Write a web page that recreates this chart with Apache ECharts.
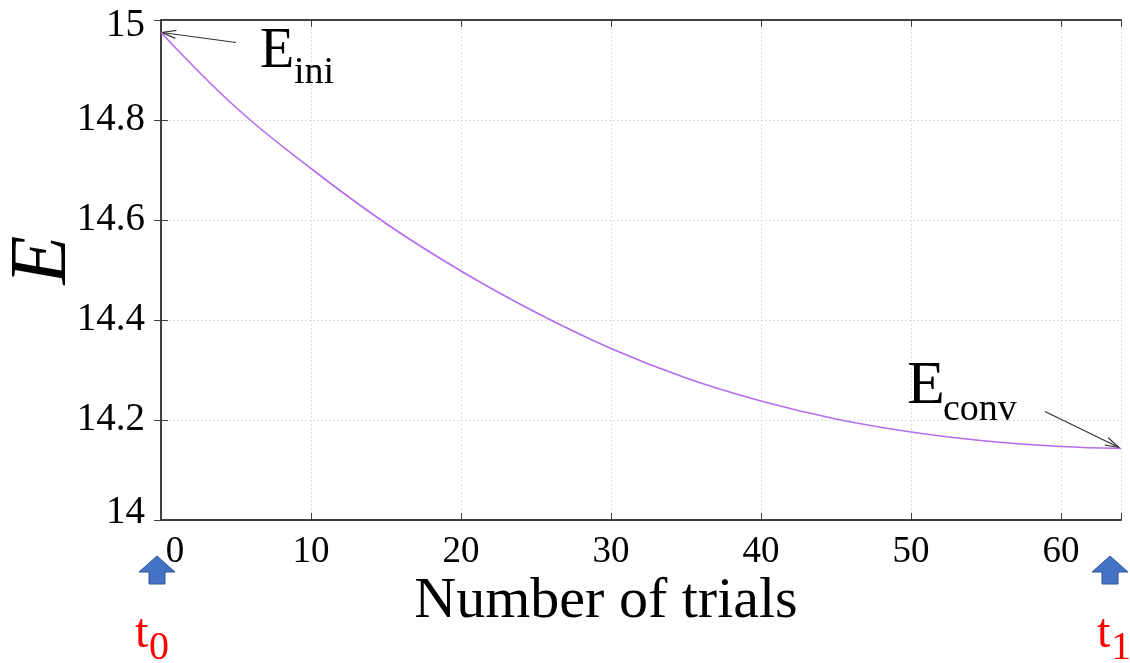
<!DOCTYPE html>
<html>
<head>
<meta charset="utf-8">
<script src="https://cdn.jsdelivr.net/npm/echarts@6/dist/echarts.min.js"></script>
<style>
html,body{margin:0;padding:0;background:#fff;}
#main{width:1130px;height:663px;}
</style>
</head>
<body>
<div id="main"></div>
<script>
// trials and energy
var trials = [0, 5, 10, 15, 20, 25, 30, 35, 40, 45, 50, 55, 60, 64];
var energy = [14.975, 14.825, 14.703, 14.593, 14.498, 14.415, 14.343, 14.284, 14.238, 14.202, 14.176, 14.158, 14.147, 14.143];
var xTicks = [0, 10, 20, 30, 40, 50, 60];
var yTicks = [14, 14.2, 14.4, 14.6, 14.8, 15];

var serif = "'Liberation Serif', 'DejaVu Serif', serif";
var frame = '#404040';

var init = function(){
	var myChart = echarts.init(document.getElementById('main'));
	var points = [];
	for (var i = 0; i < trials.length; i++) {
		points.push([trials[i], energy[i]]);
	}

	var option = {
		backgroundColor: '#fff',
		animation: false,
		grid: {left: 161, right: 9, top: 20, bottom: 143, outerBoundsMode: 'none'},
		xAxis: [{
			type: 'value',
			min: 0, max: 64, interval: 10,
			name: 'Number of trials',
			nameLocation: 'middle',
			nameGap: 53,
			nameMoveOverlap: false,
			nameTextStyle: {fontFamily: serif, fontSize: 58, color: '#000', padding: [0, 70, 0, 0]},
			axisLine: {lineStyle: {color: frame, width: 2}},
			axisTick: {inside: true, length: 7, lineStyle: {color: frame, width: 1}},
			axisLabel: {
				margin: 14,
				fontFamily: serif, fontSize: 37, color: '#000',
				formatter: function(v){
					if (xTicks.indexOf(v) < 0) return '';
					return v === 0 ? '{z|0}' : String(v);
				},
				rich: {z: {fontFamily: serif, fontSize: 37, color: '#000', padding: [0, 0, 0, 28]}}
			},
			splitLine: {show: true, lineStyle: {color: '#dcdcdc', type: [2, 2], width: 1}}
		}, {
			type: 'value', position: 'top',
			min: 0, max: 64, interval: 10,
			axisLine: {lineStyle: {color: frame, width: 2}},
			axisTick: {inside: true, length: 7, lineStyle: {color: frame}},
			axisLabel: {show: false},
			splitLine: {show: false}
		}],
		yAxis: [{
			type: 'value',
			min: 14, max: 15, interval: 0.2,
			name: 'E',
			nameLocation: 'middle',
			nameGap: 77,
			nameRotate: 90,
			nameMoveOverlap: false,
			nameTextStyle: {fontFamily: serif, fontStyle: 'italic', fontSize: 80, color: '#000', padding: [0, 0, 0, 20]},
			axisLine: {show: true, lineStyle: {color: frame, width: 2}},
			axisTick: {show: true, inside: true, length: 7, lineStyle: {color: frame}},
			axisLabel: {
				margin: 16,
				fontFamily: serif, fontSize: 39, color: '#000',
				formatter: function(v){
					var s = String(Math.round(v * 10) / 10);
					if (v >= 14.999) return '{t|' + s + '}';
					if (v <= 14.001) return '{b|' + s + '}';
					return s;
				},
				rich: {
					t: {fontFamily: serif, fontSize: 39, color: '#000', padding: [12, 0, 0, 0]},
					b: {fontFamily: serif, fontSize: 39, color: '#000', padding: [0, 0, 14, 0]}
				}
			},
			splitLine: {show: true, lineStyle: {color: '#dcdcdc', type: [2, 2], width: 1}}
		}, {
			type: 'value', position: 'right',
			min: 14, max: 15, interval: 0.2,
			axisLine: {show: true, lineStyle: {color: frame, width: 2}},
			axisTick: {show: true, inside: true, length: 7, lineStyle: {color: frame}},
			axisLabel: {show: false},
			splitLine: {show: false}
		}],
		series: [{
			type: 'line',
			data: points,
			smooth: 0.4,
			showSymbol: false,
			lineStyle: {color: '#B66CEE', width: 1.6}
		}]
	};
	myChart.setOption(option);

	// annotations hooked to the first and last points
	var p0 = myChart.convertToPixel({gridIndex: 0}, points[0]);
	var p1 = myChart.convertToPixel({gridIndex: 0}, points[points.length - 1]);
	var base = myChart.convertToPixel({gridIndex: 0}, [0, 14]);

	function arrowLine(tail, tip){
		var dx = tip[0] - tail[0], dy = tip[1] - tail[1];
		var len = Math.sqrt(dx * dx + dy * dy);
		var ux = dx / len, uy = dy / len;
		var h = 14, w = 4;
		var a = [tip[0] - ux * h - uy * w, tip[1] - uy * h + ux * w];
		var b = [tip[0] - ux * h + uy * w, tip[1] - uy * h - ux * w];
		return [
			{type: 'polyline', shape: {points: [tail, tip]}, style: {stroke: '#333', lineWidth: 1.2, fill: null}},
			{type: 'polyline', shape: {points: [a, tip, b]}, style: {stroke: '#333', lineWidth: 1.2, fill: null}}
		];
	}

	// big letter with a subscript; dx/dy place the subscript
	function sub(x, y, big, small, size, subSize, dx, dy, color){
		return [
			{type: 'text', x: x, y: y, style: {text: big, fontFamily: serif, fontSize: size, fill: color, verticalAlign: 'middle'}},
			{type: 'text', x: x + dx, y: y + dy, style: {text: small, fontFamily: serif, fontSize: subSize, fill: color, verticalAlign: 'middle'}}
		];
	}

	function blueArrow(cx){
		var top = 556;
		return {type: 'polygon', shape: {points: [
			[cx, top], [cx + 18, top + 16], [cx + 8, top + 16], [cx + 8, top + 28],
			[cx - 8, top + 28], [cx - 8, top + 16], [cx - 18, top + 16]
		]}, style: {fill: '#4472C4', stroke: '#2F5597', lineWidth: 1}};
	}

	var g = [];
	g = g.concat(arrowLine([p0[0] + 75, p0[1] + 10], [p0[0] + 1, p0[1]]));
	g = g.concat(arrowLine([p1[0] - 76, p1[1] - 37], [p1[0] - 2, p1[1] - 1]));
	g = g.concat(sub(260, 52, 'E', 'ini', 56, 38, 34, 21, '#000'));
	g = g.concat(sub(907, 387, 'E', 'conv', 62, 38, 36, 23, '#000'));
	g.push(blueArrow(base[0] - 4));
	g.push(blueArrow(p1[0] - 11));
	g = g.concat(sub(135, 634, 't', '0', 48, 40, 14, 14, '#FF0000'));
	g = g.concat(sub(1097, 634, 't', '1', 48, 40, 14, 14, '#FF0000'));
	myChart.setOption({graphic: g});
}

init();
</script>
</body>
</html>
